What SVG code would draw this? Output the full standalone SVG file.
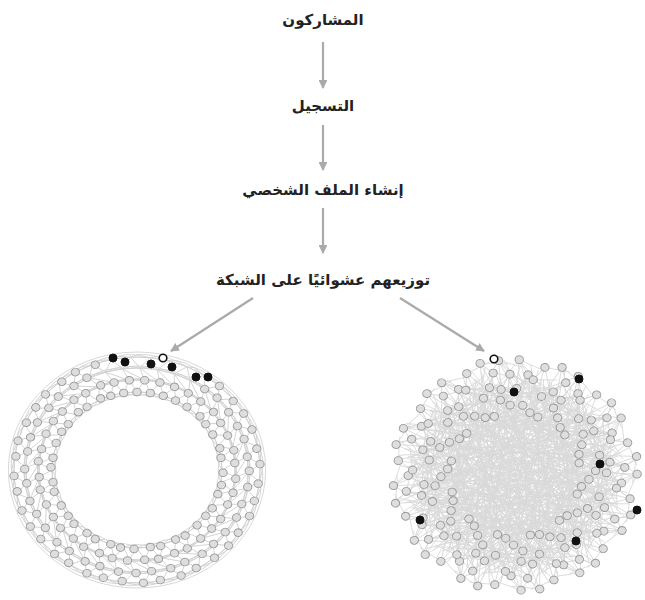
<svg xmlns="http://www.w3.org/2000/svg" xmlns:xlink="http://www.w3.org/1999/xlink" width="645" height="600" viewBox="0 0 645 600">
<style>
.lbl{font-family:"DejaVu Sans","Noto Sans",sans-serif;font-weight:bold;font-size:15px;fill:#222;text-anchor:middle}
.arr{stroke:#aaa;stroke-width:2.2;fill:none}
.re{stroke:#d0d0d0;stroke-width:0.8;fill:none}
.ne{stroke:#d9d9d9;stroke-width:0.8;fill:none}
.gn{fill:#dedede;stroke:#999;stroke-width:0.9}
.bn{fill:#111;stroke:#111;stroke-width:1}
.wn{fill:#fff;stroke:#111;stroke-width:1.6}
</style>
<defs>
<marker id="ah" viewBox="0 0 10 10" refX="9" refY="5" markerWidth="4" markerHeight="4" orient="auto" markerUnits="strokeWidth">
<path d="M0,0L10,5L0,10z" fill="#aaa"/>
</marker>
<g id="re" class="re">
<path d="M0,-78L7.06,-89.72L2.67,-101.97L11.81,-112.38"/>
<path d="M0,-78L12.2,-77.04M7.06,-89.72L12.2,-77.04M7.06,-89.72L21.01,-87.51M2.67,-101.97L21.01,-87.51M2.67,-101.97L18.59,-100.29M11.81,-112.38L18.59,-100.29M11.81,-112.38L29.25,-109.15"/>
<path d="M0,-78Q11.26,-71.11 24.1,-74.18M11.81,-112.38Q24.95,-117.37 45.96,-103.23M7.06,-89.72Q20,-92 34.44,-83.15M2.67,-101.97Q18,-106 34.05,-96.15"/>
</g>
<g id="ra"><circle class="gn" cx="0" cy="-78" r="3.8"/><circle class="gn" cx="7.06" cy="-89.72" r="3.8"/><circle class="gn" cx="2.67" cy="-101.97" r="3.8"/><circle class="gn" cx="11.81" cy="-112.38" r="3.8"/></g>
<g id="rb"><circle class="gn" cx="2.76" cy="-78.95" r="3.8"/><circle class="gn" cx="8.72" cy="-90.58" r="3.8"/><circle class="gn" cx="0.9" cy="-103" r="3.8"/><circle class="gn" cx="13.65" cy="-111.17" r="3.8"/></g>
<g id="rt"><circle class="gn" cx="0" cy="-78" r="3.8"/><circle class="gn" cx="7.06" cy="-89.72" r="3.8"/></g>
<g id="ea" class="ne">
<path d="M3.91,-111.93L57.85,68.94M11.94,-97.27L-33.81,72.5M1.47,-83.99L86.1,-40.15M7.11,-67.63L12.15,68.94M1.47,-83.99L-93.97,34.2M7.11,-67.63L79.87,29.07"/>
<path d="M3.91,-111.93L25.4,-101.88M11.94,-97.27L27.81,-85.6M1.47,-83.99L19.67,-73.41M7.11,-67.63L27.36,-75.18M3.91,-111.93L11.94,-97.27L1.47,-83.99L7.11,-67.63M3.91,-111.93L1.47,-83.99"/>
<path d="M11.94,-97.27Q-10,-20 -60,40M3.91,-111.93Q40,-60 95,-20M7.11,-67.63Q-20,0 -40,90M3.91,-111.93Q-50,-40 -100,-50M11.94,-97.27Q60,0 100,40M1.47,-83.99Q0,20 -30,100"/>
</g>
<g id="eb" class="ne">
<path d="M9.41,-107.59L-16.49,93.56M0.82,-94L81.92,57.36M11.13,-79.22L-69.63,48.76M3.25,-61.92L75,0M3.25,-61.92L-63.44,-29.58"/>
<path d="M9.41,-107.59L32.75,-107.11M0.82,-94L22.5,-97.44M11.13,-79.22L26.22,-64.9M3.25,-61.92L23.43,-81.71M9.41,-107.59L0.82,-94L11.13,-79.22L3.25,-61.92"/>
<path d="M0.82,-94Q30,-10 20,80M9.41,-107.59Q40,-30 60,80M11.13,-79.22Q-40,-20 -100,10M3.25,-61.92Q10,30 -50,85M0.82,-94Q-60,-60 -95,-30"/>
</g>
<g id="ec" class="ne">
<path d="M5.91,-112.85L33.81,72.5M14.06,-100.02L-64.28,76.6M6.14,-87.79L57.85,-68.94M11.58,-73.09L-90,0M1.05,-59.99L41.78,49.79M6.14,-87.79L-48.21,-57.45"/>
<path d="M5.91,-112.85L29.77,-103.82M14.06,-100.02L32.49,-89.27M6.14,-87.79L25.34,-77.99M11.58,-73.09L26.85,-60.29M1.05,-59.99L16.93,-67.92M5.91,-112.85L14.06,-100.02L6.14,-87.79L11.58,-73.09L1.05,-59.99"/>
<path d="M14.06,-100.02Q-30,-30 -85,-45M5.91,-112.85Q-20,-20 -10,95M11.58,-73.09Q50,-10 90,-60M1.05,-59.99Q-30,10 -75,60M6.14,-87.79Q30,20 70,80"/>
</g>
<g id="na"><circle class="gn" cx="3.91" cy="-111.93" r="3.8"/><circle class="gn" cx="11.94" cy="-97.27" r="3.8"/><circle class="gn" cx="1.47" cy="-83.99" r="3.8"/><circle class="gn" cx="7.11" cy="-67.63" r="3.8"/></g>
<g id="nb"><circle class="gn" cx="9.41" cy="-107.59" r="3.8"/><circle class="gn" cx="0.82" cy="-94" r="3.8"/><circle class="gn" cx="11.13" cy="-79.22" r="3.8"/><circle class="gn" cx="3.25" cy="-61.92" r="3.8"/></g>
<g id="nc"><circle class="gn" cx="5.91" cy="-112.85" r="3.8"/><circle class="gn" cx="14.06" cy="-100.02" r="3.8"/><circle class="gn" cx="6.14" cy="-87.79" r="3.8"/><circle class="gn" cx="11.58" cy="-73.09" r="3.8"/><circle class="gn" cx="1.05" cy="-59.99" r="3.8"/></g>
</defs>
<rect width="645" height="600" fill="#fff"/>
<g id="connectors">
<path class="arr" marker-end="url(#ah)" d="M323,42V88"/>
<path class="arr" marker-end="url(#ah)" d="M323,125V170"/>
<path class="arr" marker-end="url(#ah)" d="M323,208V253"/>
<path class="arr" marker-end="url(#ah)" d="M253,298L171,351"/>
<path class="arr" marker-end="url(#ah)" d="M400,298L484,351"/>
</g>
<g id="n-participants"><text class="lbl" x="323" y="25">المشاركون</text></g>
<g id="n-registration"><text class="lbl" x="323" y="111">التسجيل</text></g>
<g id="n-profile"><text class="lbl" x="323" y="195">إنشاء الملف الشخصي</text></g>
<g id="n-distribute"><text class="lbl" x="323" y="285">توزيعهم عشوائيًا على الشبكة</text></g>
<g id="n-ring-network">
<g transform="translate(137,470) scale(1.09,1)">
<g class="re"><circle r="78"/><circle r="90"/><circle r="102"/><circle r="113"/><circle r="118"/></g>
<use href="#re"/><use href="#re" transform="rotate(9)"/><use href="#re" transform="rotate(18)"/><use href="#re" transform="rotate(27)"/><use href="#re" transform="rotate(36)"/><use href="#re" transform="rotate(45)"/><use href="#re" transform="rotate(54)"/><use href="#re" transform="rotate(63)"/><use href="#re" transform="rotate(72)"/><use href="#re" transform="rotate(81)"/><use href="#re" transform="rotate(90)"/><use href="#re" transform="rotate(99)"/><use href="#re" transform="rotate(108)"/><use href="#re" transform="rotate(117)"/><use href="#re" transform="rotate(126)"/><use href="#re" transform="rotate(135)"/><use href="#re" transform="rotate(144)"/><use href="#re" transform="rotate(153)"/><use href="#re" transform="rotate(162)"/><use href="#re" transform="rotate(171)"/><use href="#re" transform="rotate(180)"/><use href="#re" transform="rotate(189)"/><use href="#re" transform="rotate(198)"/><use href="#re" transform="rotate(207)"/><use href="#re" transform="rotate(216)"/><use href="#re" transform="rotate(225)"/><use href="#re" transform="rotate(234)"/><use href="#re" transform="rotate(243)"/><use href="#re" transform="rotate(252)"/><use href="#re" transform="rotate(261)"/><use href="#re" transform="rotate(270)"/><use href="#re" transform="rotate(279)"/><use href="#re" transform="rotate(288)"/><use href="#re" transform="rotate(297)"/><use href="#re" transform="rotate(306)"/><use href="#re" transform="rotate(315)"/><use href="#re" transform="rotate(324)"/><use href="#re" transform="rotate(333)"/><use href="#re" transform="rotate(342)"/><use href="#re" transform="rotate(351)"/>
<use href="#rt"/><use href="#rt" transform="rotate(9)"/><use href="#rt" transform="rotate(18)"/><use href="#rt" transform="rotate(27)"/><use href="#ra" transform="rotate(36)"/><use href="#rb" transform="rotate(45)"/><use href="#ra" transform="rotate(54)"/><use href="#ra" transform="rotate(63)"/><use href="#rb" transform="rotate(72)"/><use href="#ra" transform="rotate(81)"/><use href="#rb" transform="rotate(90)"/><use href="#rb" transform="rotate(99)"/><use href="#ra" transform="rotate(108)"/><use href="#rb" transform="rotate(117)"/><use href="#ra" transform="rotate(126)"/><use href="#ra" transform="rotate(135)"/><use href="#rb" transform="rotate(144)"/><use href="#ra" transform="rotate(153)"/><use href="#rb" transform="rotate(162)"/><use href="#ra" transform="rotate(171)"/><use href="#rb" transform="rotate(180)"/><use href="#rb" transform="rotate(189)"/><use href="#ra" transform="rotate(198)"/><use href="#rb" transform="rotate(207)"/><use href="#ra" transform="rotate(216)"/><use href="#rb" transform="rotate(225)"/><use href="#ra" transform="rotate(234)"/><use href="#ra" transform="rotate(243)"/><use href="#rb" transform="rotate(252)"/><use href="#ra" transform="rotate(261)"/><use href="#rb" transform="rotate(270)"/><use href="#ra" transform="rotate(279)"/><use href="#rb" transform="rotate(288)"/><use href="#rb" transform="rotate(297)"/><use href="#ra" transform="rotate(306)"/><use href="#rb" transform="rotate(315)"/><use href="#ra" transform="rotate(324)"/><use href="#rb" transform="rotate(333)"/><use href="#rt" transform="rotate(342)"/><use href="#rt" transform="rotate(351)"/>
</g>
<circle class="bn" cx="113" cy="358" r="4"/><circle class="bn" cx="125" cy="362" r="4"/><circle class="bn" cx="151" cy="364" r="4"/><circle class="bn" cx="172" cy="367" r="4"/><circle class="bn" cx="196" cy="377" r="4"/><circle class="bn" cx="208" cy="377" r="4"/><circle class="wn" cx="163" cy="358" r="3.8"/>
</g>
<g id="n-random-network">
<g transform="translate(515,475) scale(1.09,1.03)">
<use href="#ea"/><use href="#eb" transform="rotate(9.73)"/><use href="#ec" transform="rotate(19.46)"/><use href="#ea" transform="rotate(29.19)"/><use href="#eb" transform="rotate(38.92)"/><use href="#ec" transform="rotate(48.65)"/><use href="#ea" transform="rotate(58.38)"/><use href="#eb" transform="rotate(68.11)"/><use href="#ec" transform="rotate(77.84)"/><use href="#ea" transform="rotate(87.57)"/><use href="#eb" transform="rotate(97.3)"/><use href="#ec" transform="rotate(107.03)"/><use href="#ea" transform="rotate(116.76)"/><use href="#eb" transform="rotate(126.49)"/><use href="#ec" transform="rotate(136.22)"/><use href="#ea" transform="rotate(145.95)"/><use href="#eb" transform="rotate(155.68)"/><use href="#ec" transform="rotate(165.41)"/><use href="#ea" transform="rotate(175.14)"/><use href="#eb" transform="rotate(184.86)"/><use href="#ec" transform="rotate(194.59)"/><use href="#ea" transform="rotate(204.32)"/><use href="#eb" transform="rotate(214.05)"/><use href="#ec" transform="rotate(223.78)"/><use href="#ea" transform="rotate(233.51)"/><use href="#eb" transform="rotate(243.24)"/><use href="#ec" transform="rotate(252.97)"/><use href="#ea" transform="rotate(262.7)"/><use href="#eb" transform="rotate(272.43)"/><use href="#ec" transform="rotate(282.16)"/><use href="#ea" transform="rotate(291.89)"/><use href="#eb" transform="rotate(301.62)"/><use href="#ec" transform="rotate(311.35)"/><use href="#ea" transform="rotate(321.08)"/><use href="#eb" transform="rotate(330.81)"/><use href="#ec" transform="rotate(340.54)"/><use href="#ea" transform="rotate(350.27)"/>
<use href="#na"/><use href="#nb" transform="rotate(9.73)"/><use href="#nc" transform="rotate(19.46)"/><use href="#na" transform="rotate(29.19)"/><use href="#nb" transform="rotate(38.92)"/><use href="#nc" transform="rotate(48.65)"/><use href="#na" transform="rotate(58.38)"/><use href="#nb" transform="rotate(68.11)"/><use href="#nc" transform="rotate(77.84)"/><use href="#na" transform="rotate(87.57)"/><use href="#nb" transform="rotate(97.3)"/><use href="#nc" transform="rotate(107.03)"/><use href="#na" transform="rotate(116.76)"/><use href="#nb" transform="rotate(126.49)"/><use href="#nc" transform="rotate(136.22)"/><use href="#na" transform="rotate(145.95)"/><use href="#nb" transform="rotate(155.68)"/><use href="#nc" transform="rotate(165.41)"/><use href="#na" transform="rotate(175.14)"/><use href="#nb" transform="rotate(184.86)"/><use href="#nc" transform="rotate(194.59)"/><use href="#na" transform="rotate(204.32)"/><use href="#nb" transform="rotate(214.05)"/><use href="#nc" transform="rotate(223.78)"/><use href="#na" transform="rotate(233.51)"/><use href="#nb" transform="rotate(243.24)"/><use href="#nc" transform="rotate(252.97)"/><use href="#na" transform="rotate(262.7)"/><use href="#nb" transform="rotate(272.43)"/><use href="#nc" transform="rotate(282.16)"/><use href="#na" transform="rotate(291.89)"/><use href="#nb" transform="rotate(301.62)"/><use href="#nc" transform="rotate(311.35)"/><use href="#na" transform="rotate(321.08)"/><use href="#nb" transform="rotate(330.81)"/><use href="#nc" transform="rotate(340.54)"/><use href="#na" transform="rotate(350.27)"/>
</g>
<circle class="bn" cx="579" cy="379" r="4"/><circle class="bn" cx="514" cy="392" r="4"/><circle class="bn" cx="600" cy="464" r="4"/><circle class="bn" cx="637" cy="510" r="4"/><circle class="bn" cx="420" cy="520" r="4"/><circle class="bn" cx="576" cy="541" r="4"/><circle class="wn" cx="494" cy="359" r="3.8"/>
</g>
</svg>
